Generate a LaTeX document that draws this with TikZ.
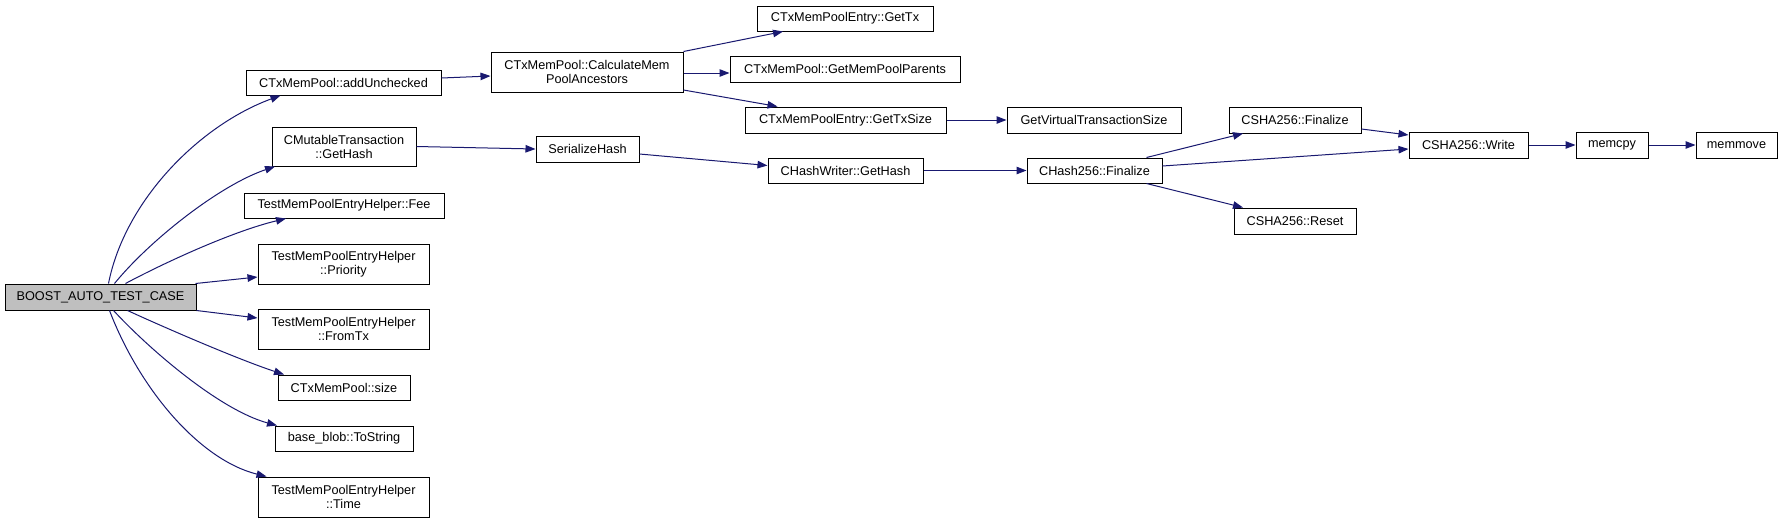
\documentclass[tikz,border=0pt]{standalone}
\usepackage{fontspec}
\setmainfont{Liberation Sans}
\usetikzlibrary{arrows.meta}
\definecolor{edgeblue}{HTML}{191970}
\definecolor{rootgray}{HTML}{BFBFBF}
\tikzset{
  box/.style={draw=black, line width=1pt, fill=white, inner sep=0pt, align=center,
    font=\fontsize{12.7}{14}\selectfont},
  root/.style={box, fill=rootgray},
  e/.style={draw=edgeblue, line width=1pt, -{Triangle[length=10pt,width=7.5pt]}, fill=none},
}
\begin{document}
\begin{tikzpicture}[x=1pt,y=-1pt]
\fill[white] (0,0) rectangle (1783,523);
\useasboundingbox (0,0) rectangle (1783,523);

\node[root, minimum width=191pt, minimum height=26pt] (boost) at (100.5,297) {BOOST\_AUTO\_TEST\_CASE};
\node[box, minimum width=195pt, minimum height=25pt] (add) at (343.5,82.5) {CTxMemPool::addUnchecked};
\node[box, minimum width=144pt, minimum height=39pt] (gethash) at (344,146.5) {CMutableTransaction\\::GetHash};
\node[box, minimum width=200pt, minimum height=25pt] (fee) at (344,205.5) {TestMemPoolEntryHelper::Fee};
\node[box, minimum width=171pt, minimum height=40pt] (priority) at (343.5,264) {TestMemPoolEntryHelper\\::Priority};
\node[box, minimum width=171pt, minimum height=40pt] (fromtx) at (343.5,329) {TestMemPoolEntryHelper\\::FromTx};
\node[box, minimum width=132pt, minimum height=25pt] (size) at (344,387.5) {CTxMemPool::size};
\node[box, minimum width=138pt, minimum height=25pt] (tostring) at (344,438.5) {base\_blob::ToString};
\node[box, minimum width=171pt, minimum height=40pt] (time) at (343.5,497) {TestMemPoolEntryHelper\\::Time};
\node[box, minimum width=192pt, minimum height=40pt] (calc) at (587,72) {CTxMemPool::CalculateMem\\PoolAncestors};
\node[box, minimum width=176pt, minimum height=25pt] (gettx) at (845,18.5) {CTxMemPoolEntry::GetTx};
\node[box, minimum width=230pt, minimum height=26pt] (parents) at (845,69) {CTxMemPool::GetMemPoolParents};
\node[box, minimum width=201pt, minimum height=26pt] (gettxsize) at (845.5,120) {CTxMemPoolEntry::GetTxSize};
\node[box, minimum width=103pt, minimum height=26pt] (serialize) at (587.5,149) {SerializeHash};
\node[box, minimum width=155pt, minimum height=25pt] (writer) at (845.5,170.5) {CHashWriter::GetHash};
\node[box, minimum width=174pt, minimum height=26pt] (gvts) at (1094,120) {GetVirtualTransactionSize};
\node[box, minimum width=135pt, minimum height=25pt] (chash) at (1094.5,170.5) {CHash256::Finalize};
\node[box, minimum width=132pt, minimum height=26pt] (cshafin) at (1295,120) {CSHA256::Finalize};
\node[box, minimum width=122pt, minimum height=26pt] (reset) at (1295,221) {CSHA256::Reset};
\node[box, minimum width=119pt, minimum height=26pt] (write) at (1468.5,145) {CSHA256::Write};
\node[box, minimum width=72pt, minimum height=26pt] (memcpy) at (1612,145) {memcpy};
\node[box, minimum width=81pt, minimum height=26pt] (memmove) at (1736.5,145) {memmove};

% edges from the root
\draw[e] ([xshift=8pt]boost.north) .. controls (125,200) and (200,125) .. ([xshift=-63pt]add.south);
\draw[e] ([xshift=14pt]boost.north) .. controls (150,240) and (220,185) .. ([xshift=-69pt]gethash.south);
\draw[e] ([xshift=25pt]boost.north) .. controls (160,265) and (230,232) .. ([xshift=-58pt]fee.south);
\draw[e] ([xshift=-1pt]boost.north east) -- ([yshift=-13pt]priority.west);
\draw[e] (boost.south east) -- ([yshift=11pt]fromtx.west);
\draw[e] ([xshift=27pt]boost.south) .. controls (170,330) and (240,360) .. ([xshift=-60pt]size.north);
\draw[e] ([xshift=13pt]boost.south) .. controls (150,350) and (220,410) .. ([xshift=-67pt]tostring.north);
\draw[e] ([xshift=9pt]boost.south) .. controls (140,390) and (200,460) .. ([xshift=-77pt]time.north);

% other edges
\draw[e] ([yshift=4.5pt]add.east) -- ([yshift=-4pt]calc.west);
\draw[e] (calc.north east) -- ([xshift=-62pt]gettx.south);
\draw[e] ([yshift=-1pt]calc.east) -- ([yshift=-1pt]calc.east -| parents.west);
\draw[e] ([yshift=-18pt]calc.east) -- ([xshift=-68pt]gettxsize.north);
\draw[e] (gethash.east) -- (serialize.west);
\draw[e] ([yshift=-5pt]serialize.east) -- ([yshift=5pt]writer.west);
\draw[e] (gettxsize.east) -- (gvts.west);
\draw[e] (writer.east) -- (chash.west);
\draw[e] ([xshift=52pt]chash.north) -- ([xshift=-52pt]cshafin.south);
\draw[e] ([yshift=4.5pt]chash.east) -- ([yshift=-4pt]write.west);
\draw[e] ([yshift=-9pt]cshafin.east) -- ([yshift=10pt]write.west);
\draw[e] ([xshift=52pt]chash.south) -- ([xshift=-52pt]reset.north);
\draw[e] (write.east) -- (memcpy.west);
\draw[e] (memcpy.east) -- (memmove.west);
\end{tikzpicture}
\end{document}
